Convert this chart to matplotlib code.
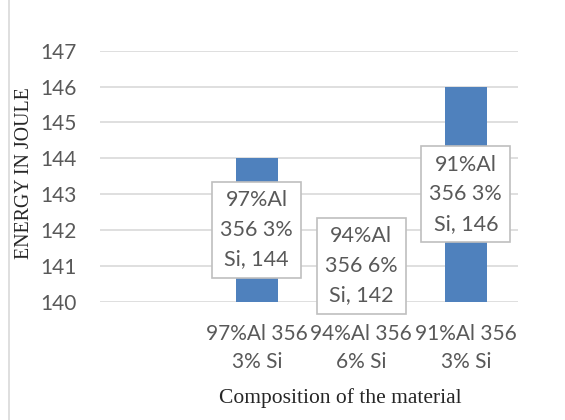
import numpy as np
import matplotlib
matplotlib.use("Agg")
import matplotlib.pyplot as plt
from matplotlib.lines import Line2D

# data
categories = ['', '97%Al 356\n3% Si', '94%Al 356\n6% Si', '91%Al 356\n3% Si']
energy = [np.nan, 144, 142, 146]
point_labels = ['', '97%Al\n356 3%\nSi, 144', '94%Al\n356 6%\nSi, 142', '91%Al\n356 3%\nSi, 146']
y_ticks = [140, 141, 142, 143, 144, 145, 146, 147]

text_gray = '#595959'
bar_blue = '#4f81bd'
sans = ['Lato', 'DejaVu Sans']
serif = ['Liberation Serif', 'DejaVu Serif']

fig = plt.figure(figsize=(5.65, 4.2), dpi=100)
ax = fig.add_axes([0.177, 0.2817, 0.740, 0.5976])

x = np.arange(len(categories))
ax.bar(x, energy, width=0.4, color=bar_blue, zorder=2)
ax.set_xlim(-0.5, len(categories) - 0.5)
ax.set_ylim(y_ticks[0], y_ticks[-1])

# data labels centred on each bar
base = y_ticks[0]
for xi, v, lab in zip(x, energy, point_labels):
    if np.isnan(v):
        continue
    ax.text(xi, (base + v) / 2, lab, ha='center', va='center', fontsize=15.5,
            family=sans, color=text_gray, linespacing=1.6, zorder=4,
            bbox=dict(boxstyle='square,pad=0.38', fc='white', ec='#bfbfbf', lw=1.2))

ax.set_yticks(y_ticks)
ax.set_yticklabels([str(t) for t in y_ticks], family=sans, fontsize=15, color=text_gray)
ax.set_xticks(x)
ax.set_xticklabels(categories, family=sans, fontsize=15, color=text_gray, linespacing=1.5)
ax.tick_params(axis='both', length=0)
ax.tick_params(axis='y', pad=16.5)
ax.tick_params(axis='x', pad=16)
ax.grid(axis='y', color='#d9d9d9', lw=1.2, zorder=0)
ax.set_axisbelow(True)
for s in ax.spines.values():
    s.set_visible(False)

fig.text(340 / 565, 1 - 398 / 420, 'Composition of the material', ha='center', va='center',
         family=serif, fontsize=15.5, color='#262626')
fig.text(25 / 565, 1 - 173 / 420, 'ENERGY IN JOULE', ha='center', va='center', rotation=90,
         family=serif, fontsize=14.3, color='#262626')

# chart border on the left
fig.add_artist(Line2D([8.5 / 565, 8.5 / 565], [0, 1], transform=fig.transFigure,
                      color='#d9d9d9', lw=1.2))

fig.savefig('out.png', dpi=100)
plt.close(fig)
